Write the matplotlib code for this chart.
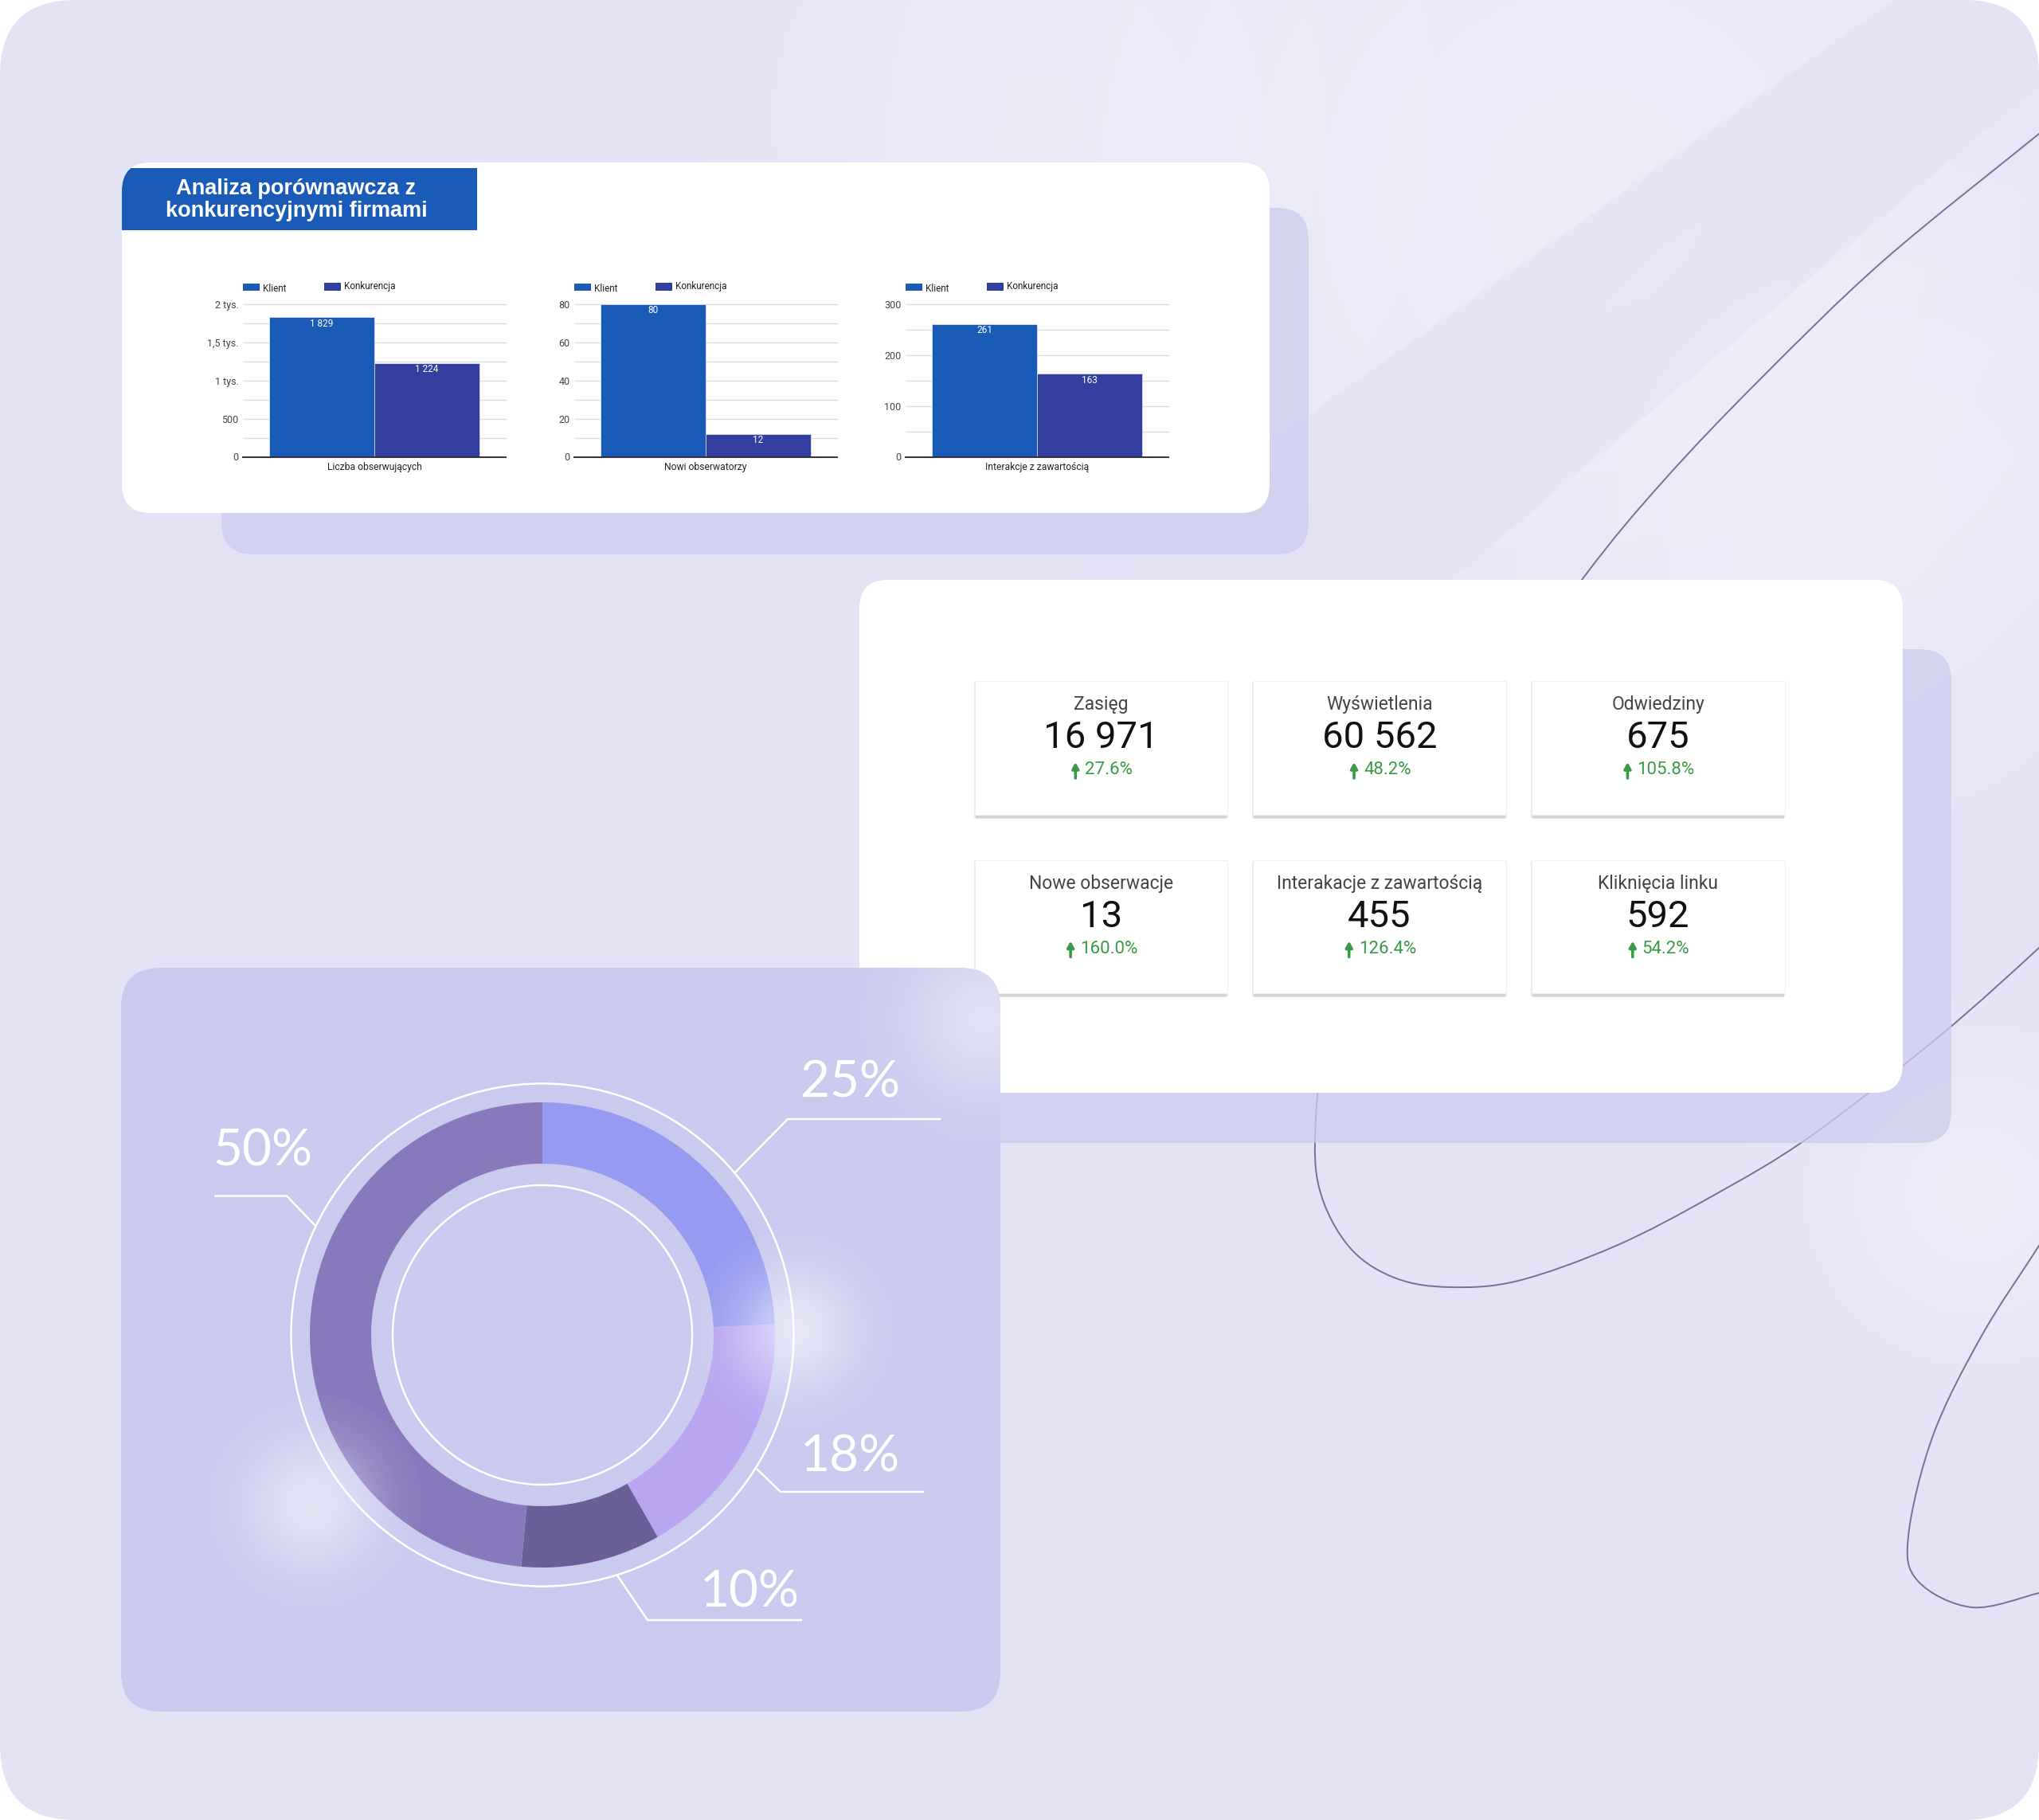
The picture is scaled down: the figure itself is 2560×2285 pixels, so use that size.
import numpy as np
import matplotlib
matplotlib.use('Agg')
import matplotlib.pyplot as plt
from matplotlib.patches import FancyBboxPatch, Rectangle, Circle, PathPatch
from matplotlib.path import Path

W, H = 2560, 2285
DPI = 100

# ---------------- data ----------------
series_names = ['Klient', 'Konkurencja']
bar_categories = ['Liczba obserwujących', 'Nowi obserwatorzy', 'Interakcje z zawartością']
klient_values = [1829, 80, 261]
konkurencja_values = [1224, 12, 163]
y_max = [2000, 80, 300]
y_major_ticks = [[0, 500, 1000, 1500, 2000], [0, 20, 40, 60, 80], [0, 100, 200, 300]]
y_tick_labels = [['0', '500', '1 tys.', '1,5 tys.', '2 tys.'],
                 ['0', '20', '40', '60', '80'],
                 ['0', '100', '200', '300']]
y_minor_ticks = [[250, 750, 1250, 1750], [10, 30, 50, 70], [50, 150, 250]]

kpi_titles = ['Zasięg', 'Wyświetlenia', 'Odwiedziny',
              'Nowe obserwacje', 'Interakacje z zawartością', 'Kliknięcia linku']
kpi_values = ['16 971', '60 562', '675', '13', '455', '592']
kpi_changes = ['27.6%', '48.2%', '105.8%', '160.0%', '126.4%', '54.2%']

donut_values = [25, 18, 10, 50]
donut_labels = ['25%', '18%', '10%', '50%']

title_text = 'Analiza porównawcza z\nkonkurencyjnymi firmami'

# ---------------- colours ----------------
C_KLIENT = '#1A5BB8'
C_KONK = '#333F9E'
DONUT_COLORS = ['#959BF0', '#B9A5F2', '#6A5F98', '#8879BD']
FONT = ['Roboto', 'DejaVu Sans']

fig = plt.figure(figsize=(W / DPI, H / DPI), dpi=DPI)
fig.patch.set_facecolor('white')
renderer = fig.canvas.get_renderer()

bg = fig.add_axes([0, 0, 1, 1], zorder=0)
bg.set_xlim(0, W)
bg.set_ylim(H, 0)
bg.axis('off')


def rbox(ax, x0, y0, x1, y1, r, color, z, alpha=1.0, **kw):
    p = FancyBboxPatch((x0, y0), x1 - x0, y1 - y0,
                       boxstyle=f'round,pad=0,rounding_size={r}',
                       fc=color, ec='none', zorder=z, alpha=alpha, **kw)
    ax.add_patch(p)
    return p


def glow_img(alpha_max, k=3.0, n=200):
    t = np.linspace(-1, 1, n)
    xx, yy = np.meshgrid(t, t)
    d2 = xx ** 2 + yy ** 2
    a = alpha_max * np.exp(-k * d2)
    a[d2 > 1] = 0
    img = np.ones((n, n, 4))
    img[..., 3] = a
    return img


def smooth_path(pts):
    pts = np.asarray(pts, float)
    verts = [pts[0]]
    codes = [Path.MOVETO]
    n = len(pts)
    for i in range(n - 1):
        p0 = pts[i - 1] if i > 0 else pts[i]
        p1 = pts[i]
        p2 = pts[i + 1]
        p3 = pts[i + 2] if i + 2 < n else pts[i + 1]
        c1 = p1 + (p2 - p0) / 6.0
        c2 = p2 - (p3 - p1) / 6.0
        verts += [c1, c2, p2]
        codes += [Path.CURVE4] * 3
    return Path(verts, codes)


# ---------------- background ----------------
bgp = rbox(bg, 0, 0, W, H, 95, '#E4E3F6', 0)
for (cx, cy, r, a) in [(2000, 250, 900, 0.3), (1300, 150, 600, 0.2),
                       (2480, 1500, 300, 0.3), (2350, 650, 500, 0.22)]:
    im = bg.imshow(glow_img(a, k=2.0), extent=(cx - r, cx + r, cy + r, cy - r),
                   zorder=0.5, interpolation='bilinear', aspect='auto')
    im.set_clip_path(bgp)
# slightly darker diagonal band
band = Path([(1250, 800), (1600, 551), (2378, 0), (2560, 0), (2560, 107),
             (1826, 724), (1600, 950)],
            [Path.MOVETO] + [Path.LINETO] * 6)
bp = PathPatch(band, fc='#E3E2F6', ec='none', alpha=0.6, zorder=0.6)
bg.add_patch(bp)
bp.set_clip_path(bgp)
bg.set_xlim(0, W)
bg.set_ylim(H, 0)

# decorative curves
curve1 = [(2600, 135), (2560, 168), (2365, 327), (2212, 474), (2090, 602), (1989, 724),
          (1850, 920), (1730, 1150), (1665, 1320), (1651, 1435), (1661, 1507),
          (1698, 1570), (1753, 1605), (1820, 1616), (1906, 1608), (2029, 1564),
          (2151, 1501), (2274, 1426), (2436, 1300), (2560, 1190), (2600, 1150)]
curve2 = [(2600, 1500), (2560, 1564), (2488, 1677), (2427, 1802), (2396, 1928),
          (2408, 1985), (2476, 2018), (2560, 2000), (2600, 1990)]
for c in (curve1, curve2):
    pp = PathPatch(smooth_path(c), fc='none', ec='#7B6C9C', lw=1.4, zorder=1)
    bg.add_patch(pp)
    pp.set_clip_path(bgp)

# shadow cards
rbox(bg, 278, 261, 1643, 696, 40, '#CDCCEE', 2, alpha=0.75)
rbox(bg, 1150, 815, 2450, 1435, 40, '#CDCCEE', 2, alpha=0.75)

# ---------------- card 1: bar charts ----------------
card1 = rbox(bg, 153, 204, 1594, 644, 36, 'white', 3)
tb = Rectangle((153, 211), 446, 78, fc=C_KLIENT, ec='none', zorder=4)
bg.add_patch(tb)
tb.set_clip_path(card1)
bg.text(372, 251, title_text, ha='center', va='center', fontsize=19.5, color='white',
        fontweight='bold', family=['Liberation Sans', 'DejaVu Sans'],
        linespacing=1.15, zorder=5)

for i in range(3):
    L = 305 + 416 * i
    top, bot = 382, 573.5
    ax = fig.add_axes([L / W, 1 - bot / H, 330 / W, (bot - top) / H], zorder=1)
    ax.set_facecolor('none')
    for s in ax.spines.values():
        s.set_visible(False)
    for v in y_major_ticks[i] + y_minor_ticks[i]:
        ax.axhline(v, color='#DCDCDC', lw=1.0, zorder=0, clip_on=False)
    ax.bar(-0.4, klient_values[i], width=0.8, color=C_KLIENT, zorder=2,
           edgecolor='white', linewidth=0.4)
    ax.bar(0.4, konkurencja_values[i], width=0.8, color=C_KONK, zorder=2,
           edgecolor='white', linewidth=0.4)
    ax.axhline(0, color='#333333', lw=1.4, zorder=3, clip_on=False)
    for x, v in ((-0.4, klient_values[i]), (0.4, konkurencja_values[i])):
        ax.annotate(f'{v:,}'.replace(',', ' '), (x, v), xytext=(0, -5.5),
                    textcoords='offset points', ha='center', va='center',
                    color='white', fontsize=8.5, family=FONT, zorder=4)
    ax.set_xlim(-1, 1)
    ax.set_ylim(0, y_max[i])
    ax.set_yticks(y_major_ticks[i], y_tick_labels[i], family=FONT)
    ax.set_xticks([0], [bar_categories[i]], family=FONT)
    ax.tick_params(axis='y', length=0, pad=4, labelsize=9, labelcolor='#444444')
    ax.tick_params(axis='x', length=0, pad=5, labelsize=8.7, labelcolor='#222222')
    # legend
    bg.add_patch(Rectangle((L, 356), 21, 9, fc=C_KLIENT, ec='none', zorder=5))
    bg.text(L + 25, 362, series_names[0], ha='left', va='center', fontsize=8.5,
            color='#222222', family=FONT, zorder=5)
    bg.add_patch(Rectangle((L + 102, 355), 21, 10, fc=C_KONK, ec='none', zorder=5))
    bg.text(L + 127, 360, series_names[1], ha='left', va='center', fontsize=8.5,
            color='#222222', family=FONT, zorder=5)

# ---------------- card 2: KPIs ----------------
rbox(bg, 1079, 728, 2389, 1372, 36, 'white', 3)
col_x = [(1223.6, 1541), (1572.7, 1891), (1922.7, 2240.5)]
row_y = [(855, 1023), (1079.5, 1247)]
for k in range(6):
    r, c = divmod(k, 3)
    x0, x1 = col_x[c]
    y0, y1 = row_y[r]
    bg.add_patch(Rectangle((x0 - 1, y0 + 1), x1 - x0 + 2, y1 - y0 + 3, fc='black',
                           ec='none', alpha=0.08, zorder=3.2))
    bg.add_patch(Rectangle((x0 + 1, y0 + 3), x1 - x0 - 2, y1 - y0 + 2, fc='black',
                           ec='none', alpha=0.10, zorder=3.3))
    bg.add_patch(Rectangle((x0, y0), x1 - x0, y1 - y0, fc='white', ec='#EFEFEF',
                           lw=0.6, zorder=3.5))
    cx = (x0 + x1) / 2
    bg.text(cx, y0 + 30, kpi_titles[k], ha='center', va='center', fontsize=16.5,
            color='#444444', family=FONT, zorder=4)
    bg.text(cx, y0 + 71, kpi_values[k], ha='center', va='center', fontsize=34,
            color='#111111', family=FONT, zorder=4)
    t = bg.text(cx + 10, y0 + 112, kpi_changes[k], ha='center', va='center',
                fontsize=16, color='#3A9A48', family=FONT, zorder=4)
    bb = t.get_window_extent(renderer)
    ax_ = bb.x0 - 12
    bg.annotate('', xy=(ax_, y0 + 102), xytext=(ax_, y0 + 122),
                arrowprops=dict(arrowstyle='-|>,head_width=0.25,head_length=0.45',
                                color='#3A9A48', lw=2.6, shrinkA=0, shrinkB=0),
                zorder=4)

# ---------------- donut panel ----------------
panel = rbox(bg, 152, 1215, 1256, 2149, 50, '#C9CAEE', 6)

dax = fig.add_axes([0, 0, 1, 1], zorder=2)
dax.set_facecolor('none')
CX, CY = 681, H - 1676
dax.pie(donut_values, radius=292, center=(CX, CY), startangle=90, counterclock=False,
        colors=DONUT_COLORS, wedgeprops=dict(width=77, linewidth=0), frame=False)
dax.add_patch(Circle((CX, CY), 315.6, fill=False, ec='white', lw=1.8))
dax.add_patch(Circle((CX, CY), 188, fill=False, ec='white', lw=1.8))

for (gx, gy, gr, ga) in [(391, 1889, 140, 0.5), (999, 1670, 130, 0.55),
                         (1235, 1280, 170, 0.45)]:
    im = dax.imshow(glow_img(ga, k=3.0), extent=(gx - gr, gx + gr, H - gy - gr, H - gy + gr),
                    zorder=5, interpolation='bilinear', aspect='auto')
    im.set_clip_path(panel)

leaders = [[(923, 1472), (989, 1405), (1181, 1405)],
           [(950, 1844), (980, 1873), (1160, 1873)],
           [(775, 1978), (813, 2034), (1007, 2034)],
           [(396, 1539), (360, 1501.5), (269, 1501.5)]]
label_pos = [(1067, 1360), (1067, 1830), (941, 1999), (330, 1446)]
for pts, (lx, ly), lab in zip(leaders, label_pos, donut_labels):
    xs = [p[0] for p in pts]
    ys = [H - p[1] for p in pts]
    dax.plot(xs, ys, color='white', lw=1.8, solid_capstyle='butt', zorder=6)
    dax.text(lx, H - ly, lab, ha='center', va='center', fontsize=46, color='white',
             family=['Lato', 'DejaVu Sans'], fontweight='normal', zorder=6)

dax.set_xlim(0, W)
dax.set_ylim(0, H)
dax.set_aspect('auto')
dax.axis('off')

fig.savefig('out.png', dpi=DPI, facecolor='white')
